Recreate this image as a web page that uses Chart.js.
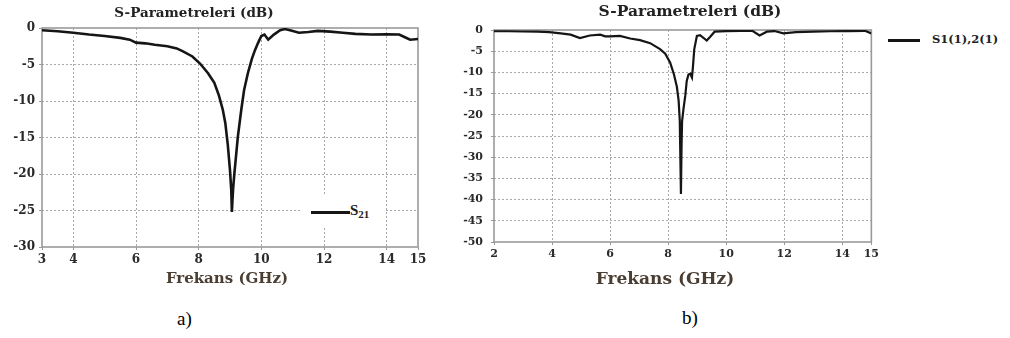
<!DOCTYPE html>
<html>
<head>
<meta charset="utf-8">
<script src="https://cdn.jsdelivr.net/npm/chart.js@4.4.1/dist/chart.umd.min.js"></script>
<style>
  body { margin: 0; background: #fff; }
  #wrap { position: relative; width: 1010px; height: 338px; overflow: hidden; background: #fff; }
  #wrap canvas { position: absolute; }
  .txt { position: absolute; white-space: nowrap; font-family: "DejaVu Serif", serif; font-weight: bold; color: #222; }
  .cap { position: absolute; font-family: "Liberation Serif", serif; font-size: 19px; color: #000; }
  .lgline { position: absolute; height: 3px; background: #151515; }
</style>
</head>
<body>
<div id="wrap">
  <canvas id="chartA" width="430" height="275" style="left:0;top:0"></canvas>
  <canvas id="chartB" width="442" height="270" style="left:440px;top:0"></canvas>

  <div class="txt" style="left:94px;top:4px;width:200px;text-align:center;font-size:13.5px">S-Parametreleri (dB)</div>
  <div class="txt" style="left:590px;top:1px;width:200px;text-align:center;font-size:15.5px">S-Parametreleri (dB)</div>

  <div class="txt" style="left:147px;top:269px;width:160px;text-align:center;font-size:15px;color:#4a3e33">Frekans (GHz)</div>
  <div class="txt" style="left:585px;top:268px;width:160px;text-align:center;font-size:17px;color:#4a3e33">Frekans (GHz)</div>

  <div style="position:absolute;left:300px;top:196px;width:86px;height:31px;background:#fff"></div>
  <div class="lgline" style="left:311px;top:211px;width:39px"></div>
  <div class="txt" style="left:350px;top:202px;font-family:'Liberation Serif',serif;font-size:15px">S<sub style="font-size:11px;vertical-align:-3px">21</sub></div>

  <div class="lgline" style="left:888px;top:39px;width:32px"></div>
  <div class="txt" style="left:932px;top:32px;font-size:11.5px">S1(1),2(1)</div>

  <div class="cap" style="left:177px;top:308px">a)</div>
  <div class="cap" style="left:682px;top:307px">b)</div>
</div>

<script>
// a) S21, 3-15 GHz
const freqA = [3.0, 3.5, 4.0, 4.5, 5.0, 5.5, 5.8, 6.0, 6.3, 6.6, 7.0, 7.3, 7.5, 7.8, 8.05, 8.3, 8.5, 8.65, 8.77, 8.85,
  8.93, 9.0, 9.04, 9.06, 9.08, 9.1, 9.14, 9.2, 9.25, 9.36, 9.45, 9.57, 9.7, 9.8, 9.9, 10.0, 10.1, 10.22, 10.4, 10.6,
  10.75, 10.95, 11.2, 11.5, 11.8, 12.2, 12.6, 13.0, 13.5, 14.0, 14.4, 14.6, 14.75, 15.0];
const s21A = [-0.3, -0.45, -0.65, -0.9, -1.1, -1.35, -1.6, -2.0, -2.1, -2.3, -2.5, -2.8, -3.2, -3.9, -4.9, -6.2, -7.5, -9.3, -11.2, -13.0,
  -16.0, -19.5, -22.2, -25.2, -23.5, -22.0, -19.9, -17.2, -14.9, -11.2, -8.5, -6.2, -4.2, -3.0, -2.0, -1.1, -0.9, -1.6, -0.9, -0.3,
  -0.15, -0.35, -0.65, -0.55, -0.4, -0.5, -0.65, -0.8, -0.9, -0.85, -0.9, -1.3, -1.6, -1.5];
const ticksA = [3, 4, 6, 8, 10, 12, 14, 15];

// b) S1(1),2(1), 2-15 GHz
const freqB = [2.0, 2.5, 3.0, 3.5, 3.9, 4.3, 4.64, 4.96, 5.3, 5.66, 5.83, 6.0, 6.34, 6.69, 7.03, 7.38, 7.72, 7.9, 8.07, 8.2,
  8.3, 8.36, 8.4, 8.42, 8.44, 8.46, 8.48, 8.53, 8.59, 8.64, 8.7, 8.76, 8.82, 8.85, 8.9, 8.99, 9.1, 9.33, 9.45, 9.6,
  10.0, 10.5, 10.9, 11.15, 11.4, 11.66, 11.97, 12.4, 13.0, 13.6, 14.2, 14.78, 15.0];
const s21B = [-0.3, -0.3, -0.35, -0.4, -0.5, -0.8, -1.1, -1.9, -1.3, -1.1, -1.5, -1.5, -1.4, -2.0, -2.4, -3.1, -4.5, -5.6, -7.7, -10.5,
  -13.4, -16.6, -21.3, -30.0, -38.7, -28.0, -21.5, -18.5, -15.5, -12.0, -10.5, -10.3, -11.2, -9.0, -4.5, -1.4, -1.2, -2.5, -1.6, -0.4,
  -0.25, -0.2, -0.2, -1.3, -0.4, -0.25, -0.8, -0.5, -0.4, -0.3, -0.25, -0.2, -0.8];
const ticksB = [2, 4, 6, 8, 10, 12, 14, 15];

const framePlugin = {
    id: 'frame',
    beforeDatasetsDraw(chart, args, opts) {
        const { ctx, chartArea: a } = chart;
        ctx.save();
        ctx.strokeStyle = opts.color;
        ctx.lineWidth = opts.width;
        ctx.strokeRect(a.left, a.top, a.right - a.left, a.bottom - a.top);
        ctx.restore();
    }
};

function buildChart(id, xs, ys, xTicks, yMin, cfg) {
    const edge = [xTicks[0], xTicks[xTicks.length - 1], yMin, 0];
    const gridColor = c => (c.tick && edge.includes(c.tick.value)) ? 'rgba(0,0,0,0)' : '#a8a8a8';
    const tickFont = { family: 'DejaVu Serif', weight: 'bold', size: cfg.fontSize };
    return new Chart(document.getElementById(id), {
        type: 'line',
        data: {
            datasets: [{
                label: cfg.label,
                data: xs.map((x, i) => ({ x, y: ys[i] })),
                borderColor: '#151515',
                borderWidth: cfg.lineWidth,
                pointRadius: 0,
                tension: 0,
                fill: false
            }]
        },
        options: {
            responsive: false,
            animation: false,
            devicePixelRatio: 1,
            layout: { padding: { top: cfg.top, right: cfg.right, left: 0, bottom: 0 } },
            plugins: {
                legend: { display: false },
                tooltip: { enabled: false },
                frame: { color: '#9a9a9a', width: 1.6 }
            },
            scales: {
                x: {
                    type: 'linear',
                    min: xTicks[0],
                    max: xTicks[xTicks.length - 1],
                    afterBuildTicks: s => { s.ticks = xTicks.map(v => ({ value: v })); },
                    afterFit: s => { s.height = cfg.xHeight; },
                    grid: { color: gridColor, tickColor: '#9a9a9a', tickLength: 3, lineWidth: 1 },
                    border: { display: false, dash: [2, 2] },
                    ticks: { color: '#2a2a2a', font: tickFont, padding: 3, maxRotation: 0, autoSkip: false }
                },
                y: {
                    min: yMin,
                    max: 0,
                    afterFit: s => { s.width = cfg.yWidth; },
                    grid: { color: gridColor, tickColor: '#9a9a9a', tickLength: 3, lineWidth: 1 },
                    border: { display: false, dash: [2, 2] },
                    ticks: { stepSize: 5, color: '#2a2a2a', font: tickFont, padding: cfg.yPad }
                }
            }
        },
        plugins: [framePlugin]
    });
}

buildChart('chartA', freqA, s21A, ticksA, -30,
    { label: 'S21', top: 28, right: 12, xHeight: 28, yWidth: 42, fontSize: 12, yPad: 4, lineWidth: 2.6 });
buildChart('chartB', freqB, s21B, ticksB, -50,
    { label: 'S1(1),2(1)', top: 30, right: 10, xHeight: 28, yWidth: 54, fontSize: 11, yPad: 8, lineWidth: 2.2 });
</script>
</body>
</html>
